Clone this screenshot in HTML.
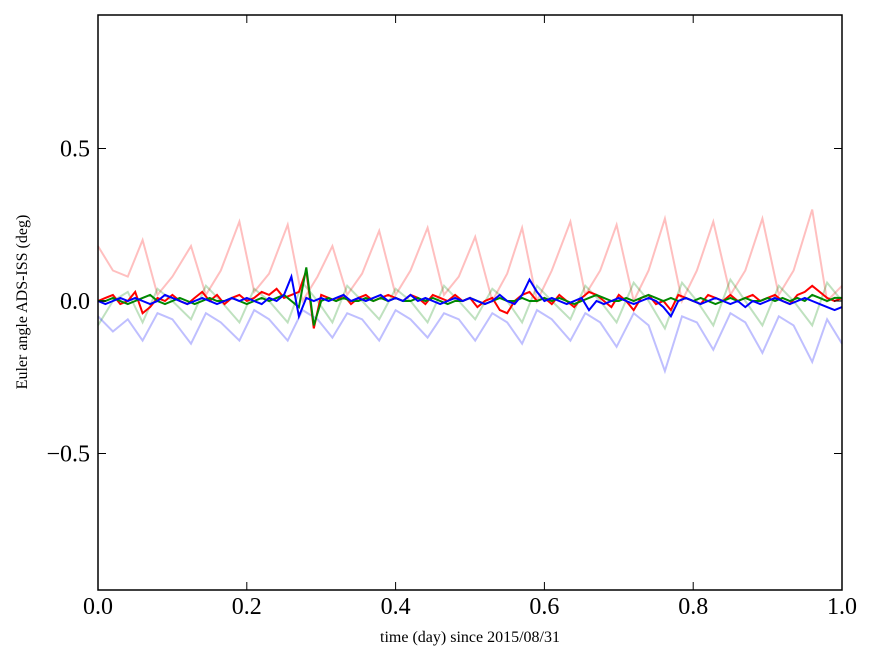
<!DOCTYPE html>
<html><head><meta charset="utf-8"><style>
body{margin:0;background:#fff;}
svg text{font-family:"Liberation Serif",serif;}
</style></head><body>
<svg id="chart" width="875" height="662" xmlns="http://www.w3.org/2000/svg">
<rect x="0" y="0" width="875" height="662" fill="#fff"/>
<g id="series"></g>
<g id="axes"></g>
<text x="470" y="642" font-size="16" text-anchor="middle">time (day) since 2015/08/31</text>
<text x="27" y="302" font-size="16" text-anchor="middle" transform="rotate(-90 27 302)">Euler angle ADS-ISS (deg)</text>
</svg>
<script>
const xTicks=[0,0.2,0.4,0.6,0.8,1.0];
const xTickLabels=["0.0","0.2","0.4","0.6","0.8","1.0"];
const yTicks=[0.5,0,-0.5];
const yTickLabels=["0.5","0.0","\u22120.5"];
const lightX=[0,0.02,0.04,0.06,0.08,0.1,0.125,0.145,0.165,0.19,0.21,0.23,0.255,0.275,0.295,0.315,0.335,0.355,0.378,0.4,0.42,0.443,0.465,0.485,0.507,0.53,0.55,0.57,0.59,0.61,0.635,0.655,0.675,0.697,0.72,0.74,0.762,0.785,0.805,0.827,0.85,0.87,0.893,0.915,0.935,0.96,0.98,1.0];
const lightRed=[0.18,0.1,0.08,0.2,0.02,0.08,0.18,0.02,0.1,0.26,0.03,0.09,0.25,0.0,0.08,0.18,0.02,0.09,0.23,0.02,0.1,0.24,0.02,0.08,0.21,0.0,0.09,0.24,0.0,0.1,0.26,0.02,0.1,0.25,0.0,0.1,0.27,0.0,0.1,0.26,0.02,0.1,0.27,0.02,0.1,0.30,0.0,0.05];
const lightBlue=[-0.05,-0.1,-0.06,-0.13,-0.04,-0.06,-0.14,-0.04,-0.07,-0.13,-0.03,-0.06,-0.13,-0.03,-0.06,-0.12,-0.04,-0.06,-0.13,-0.03,-0.06,-0.12,-0.04,-0.06,-0.13,-0.04,-0.07,-0.14,-0.03,-0.06,-0.13,-0.04,-0.07,-0.15,-0.04,-0.08,-0.23,-0.05,-0.07,-0.16,-0.04,-0.07,-0.17,-0.05,-0.08,-0.20,-0.06,-0.14];
const lightGreen=[-0.08,0.0,0.03,-0.07,0.04,0.0,-0.06,0.05,0.0,-0.07,0.04,0.0,-0.07,0.06,0.0,-0.07,0.05,0.0,-0.06,0.04,0.0,-0.07,0.05,0.0,-0.06,0.04,0.0,-0.07,0.05,0.0,-0.06,0.05,0.0,-0.07,0.06,0.0,-0.09,0.06,0.0,-0.08,0.07,0.0,-0.08,0.05,0.0,-0.08,0.06,0.0];
const darkRed=[0.00,0.01,0.02,-0.01,0.00,0.03,-0.04,-0.02,0.01,0.00,
0.02,0.00,-0.01,0.01,0.03,0.00,0.02,-0.01,0.01,0.02,
0.00,0.01,0.03,0.02,0.04,0.01,0.02,0.03,0.10,-0.09,
0.02,0.01,0.00,0.02,-0.01,0.01,0.02,0.00,0.01,0.02,
0.01,0.00,0.02,0.01,-0.01,0.02,0.01,0.00,0.02,0.00,
0.01,-0.02,0.00,0.01,-0.03,-0.04,0.00,0.02,0.03,0.00,
0.01,-0.01,0.02,0.00,-0.02,0.01,0.03,0.02,0.00,-0.02,
0.02,0.00,-0.03,0.01,0.02,-0.01,0.00,-0.03,0.02,0.01,
0.00,-0.01,0.02,0.01,0.00,0.02,0.00,0.01,0.02,0.00,
0.01,0.02,0.00,-0.01,0.02,0.03,0.05,0.03,0.01,0.00,0.01];
const darkGreen=[0.00,0.00,0.01,0.00,-0.01,0.00,0.01,0.02,0.00,-0.01,
0.00,0.01,0.00,-0.01,0.00,0.01,0.00,0.00,0.01,0.00,
-0.01,0.00,0.01,0.00,0.01,0.02,0.00,-0.02,0.11,-0.08,
0.00,0.01,0.00,0.01,0.00,0.00,0.01,0.00,0.01,0.00,
0.01,0.00,0.00,0.01,0.00,0.01,0.00,-0.01,0.00,0.00,
0.01,0.00,-0.01,0.00,0.01,0.00,0.00,0.01,0.00,0.00,
0.01,0.00,0.01,0.00,-0.01,0.00,0.01,0.02,0.01,0.00,
0.00,0.01,0.00,0.01,0.02,0.01,0.00,0.01,0.00,0.01,
0.00,0.01,0.00,-0.01,0.00,0.01,0.00,0.01,0.00,0.00,
0.01,0.00,0.01,0.00,0.01,0.00,0.02,0.01,0.00,0.01,0.01];
const darkBlue=[0.00,-0.01,0.00,0.01,0.00,0.01,0.00,-0.01,0.00,0.02,
0.01,0.00,-0.01,0.00,0.01,0.00,-0.01,0.00,0.01,0.00,
0.01,0.00,-0.01,0.01,0.00,0.02,0.08,-0.05,0.01,0.00,
0.01,0.00,0.01,0.02,0.00,0.01,0.00,0.01,0.02,0.00,
0.01,0.00,0.02,0.00,0.01,0.00,-0.01,0.00,0.01,0.00,
0.01,0.00,-0.01,0.00,0.02,0.00,-0.01,0.02,0.07,0.03,
0.00,0.01,0.00,-0.01,0.00,0.01,-0.03,0.00,-0.01,0.00,
0.01,0.00,-0.01,0.00,0.01,0.00,-0.02,-0.05,0.00,0.01,
0.00,-0.01,0.00,0.01,0.00,-0.01,0.00,-0.02,0.00,-0.01,
0.00,0.01,0.00,-0.01,0.00,0.01,0.00,-0.01,-0.02,-0.03,-0.02];
const L=98,R=842,T=15,B=590;
const xS=v=>L+v*(R-L);
const yS=v=>301-v*305;
const NS="http://www.w3.org/2000/svg";
const sg=document.getElementById('series');
function line(xs,ys,color,op,w,name){
  const p=document.createElementNS(NS,'path');
  
  
  p.setAttribute('d',ys.map((v,i)=>(i?'L':'M')+xS(xs[i]).toFixed(1)+','+yS(v).toFixed(1)).join(''));
  p.setAttribute('fill','none');p.setAttribute('stroke',color);
  p.setAttribute('stroke-opacity',op);p.setAttribute('stroke-width',w);
  sg.appendChild(p);
}
const darkX=darkRed.map((_,i)=>i/100);
line(lightX,lightRed,'#f00',0.25,2,'light-red-series');
line(lightX,lightGreen,'#080',0.25,2,'light-green-series');
line(lightX,lightBlue,'#00f',0.25,2,'light-blue-series');
line(darkX,darkRed,'#f00',1,2,'red-series');
line(darkX,darkGreen,'#080',1,2,'green-series');
line(darkX,darkBlue,'#00f',1,2,'blue-series');
const ax=document.getElementById('axes');
const fr=document.createElementNS(NS,'rect');


fr.setAttribute('x',L);fr.setAttribute('y',T);fr.setAttribute('width',R-L);fr.setAttribute('height',B-T);
fr.setAttribute('fill','none');fr.setAttribute('stroke','#000');fr.setAttribute('stroke-width',1.5);
ax.appendChild(fr);
function seg(x1,y1,x2,y2){const l=document.createElementNS(NS,'line');


l.setAttribute('x1',x1);l.setAttribute('y1',y1);l.setAttribute('x2',x2);l.setAttribute('y2',y2);l.setAttribute('stroke','#000');ax.appendChild(l);}
function txt(x,y,s,anchor){const t=document.createElementNS(NS,'text');


t.setAttribute('x',x);t.setAttribute('y',y);t.setAttribute('font-size','24');t.setAttribute('text-anchor',anchor);t.textContent=s;ax.appendChild(t);}
xTicks.forEach((v,i)=>{const x=xS(v);seg(x,B,x,B-8);seg(x,T,x,T+8);txt(x,614,xTickLabels[i],'middle');});
yTicks.forEach((v,i)=>{const y=yS(v);seg(L,y,L+8,y);seg(R,y,R-8,y);txt(L-8,y+8,yTickLabels[i],'end');});
</script>
</body></html>
